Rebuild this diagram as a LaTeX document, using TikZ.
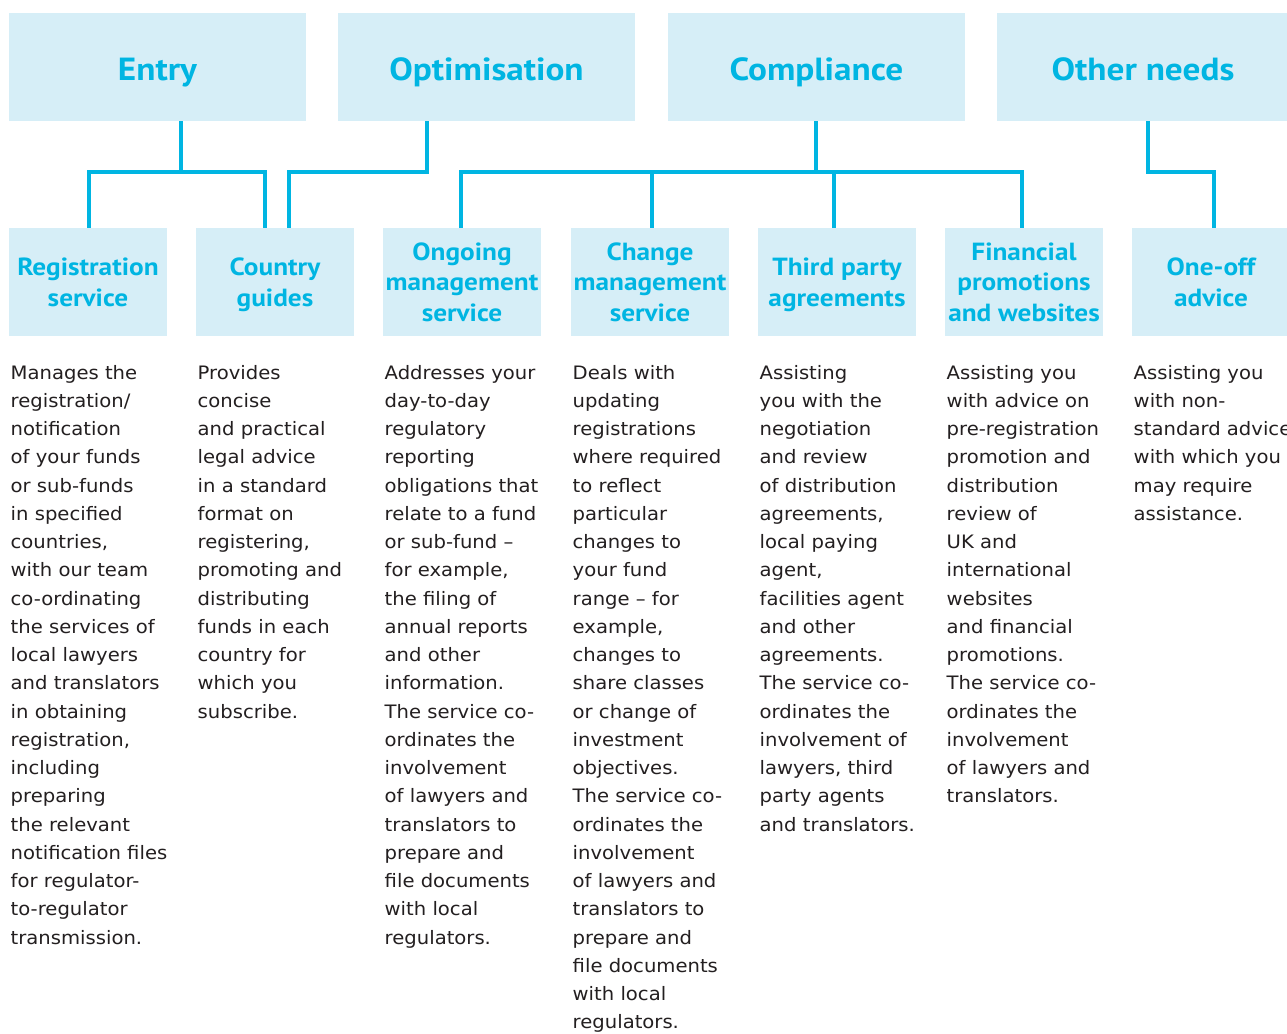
\documentclass[tikz,border=0pt]{standalone}
\usepackage{fontspec}
\setmainfont{DejaVu Sans}
\newfontfamily\bodyfont[FakeStretch=1.06]{DejaVu Sans}
\newfontfamily\headfont[FakeStretch=1.1]{PT Sans Bold}
\definecolor{cy}{RGB}{0,181,226}
\definecolor{cyfill}{RGB}{214,238,247}
\definecolor{bodytxt}{RGB}{35,31,32}
\tikzset{
  box/.style={fill=cyfill, inner sep=0pt, minimum height=108pt, text=cy, align=center},
  topbox/.style={box, minimum width=297pt, text height=31pt, text depth=3pt, font=\headfont\fontsize{32}{36}\selectfont},
  subbox/.style={box, minimum width=158pt, font=\headfont\fontsize{24.8}{30.5}\selectfont},
  conn/.style={draw=cy, line width=4pt, line join=miter},
  desc/.style={anchor=north west, inner sep=0pt, align=left, text=bodytxt, font=\bodyfont\fontsize{18.5}{28.25}\selectfont}
}
\newcommand{\fl}{\rule{0pt}{20pt}}
\newcommand{\sst}{\rule[-6.4pt]{0pt}{30.5pt}}
\begin{document}
\begin{tikzpicture}[x=1pt,y=-1pt]
\useasboundingbox[fill=white] (0,0) rectangle (1287,1033);
% top boxes
\node[topbox] (entry) at (157.5,67) {Entry};
\node[topbox] (opt) at (486.5,67) {Optimisation};
\node[topbox] (comp) at (816.5,67) {Compliance};
\node[topbox, minimum width=292pt] (other) at (1143,67) {Other needs};
% sub boxes
\node[subbox] (reg) at (88,282) {\sst Registration\\\sst service};
\node[subbox] (cty) at (275,282) {\sst Country\\\sst guides};
\node[subbox] (ong) at (462,282) {\sst Ongoing\\\sst management\\\sst service};
\node[subbox] (chg) at (650,282) {\sst Change\\\sst management\\\sst service};
\node[subbox] (thd) at (837,282) {\sst Third party\\\sst agreements};
\node[subbox] (fin) at (1024,282) {\sst Financial\\\sst promotions\\\sst and websites};
\node[subbox] (one) at (1211,282) {\sst One-off\\\sst advice};
% connectors
\draw[conn] ([xshift=23.5pt]entry.south) -- ++(0,51) coordinate (e1);
\draw[conn] ([xshift=1pt]reg.north) |- (e1) -| ([xshift=-10pt]cty.north);
\draw[conn] ([xshift=-59.5pt]opt.south) -- ++(0,51) -| ([xshift=14pt]cty.north);
\draw[conn] ([xshift=-0.5pt]comp.south) -- ++(0,51) coordinate (c1);
\draw[conn] ([xshift=-1pt]ong.north) |- (c1) -| ([xshift=-2pt]fin.north);
\draw[conn] ([xshift=2pt]chg.north) |- (c1);
\draw[conn] ([xshift=-3pt]thd.north) |- (c1);
\draw[conn] ([xshift=5pt]other.south) -- ++(0,51) -| ([xshift=3pt]one.north);
% descriptions
\node[desc] (d1) at (10.5,359) {\fl Manages the\\registration/\\notification\\of your funds\\or sub-funds\\in specified\\countries,\\with our team\\co-ordinating\\the services of\\local lawyers\\and translators\\in obtaining\\registration,\\including\\preparing\\the relevant\\notification files\\for regulator-\\to-regulator\\transmission.};
\node[desc] (d2) at (197.5,359) {\fl Provides\\concise\\and practical\\legal advice\\in a standard\\format on\\registering,\\promoting and\\distributing\\funds in each\\country for\\which you\\subscribe.};
\node[desc] (d3) at (384.5,359) {\fl Addresses your\\day-to-day\\regulatory\\reporting\\obligations that\\relate to a fund\\or sub-fund –\\for example,\\the filing of\\annual reports\\and other\\information.\\The service co-\\ordinates the\\involvement\\of lawyers and\\translators to\\prepare and\\file documents\\with local\\regulators.};
\node[desc] (d4) at (572.5,359) {\fl Deals with\\updating\\registrations\\where required\\to reflect\\particular\\changes to\\your fund\\range – for\\example,\\changes to\\share classes\\or change of\\investment\\objectives.\\The service co-\\ordinates the\\involvement\\of lawyers and\\translators to\\prepare and\\file documents\\with local\\regulators.};
\node[desc] (d5) at (759.5,359) {\fl Assisting\\you with the\\negotiation\\and review\\of distribution\\agreements,\\local paying\\agent,\\facilities agent\\and other\\agreements.\\The service co-\\ordinates the\\involvement of\\lawyers, third\\party agents\\and translators.};
\node[desc] (d6) at (946.5,359) {\fl Assisting you\\with advice on\\pre-registration\\promotion and\\distribution\\review of\\UK and\\international\\websites\\and financial\\promotions.\\The service co-\\ordinates the\\involvement\\of lawyers and\\translators.};
\node[desc] (d7) at (1133.5,359) {\fl Assisting you\\with non-\\standard advice\\with which you\\may require\\assistance.};
\end{tikzpicture}
\end{document}
